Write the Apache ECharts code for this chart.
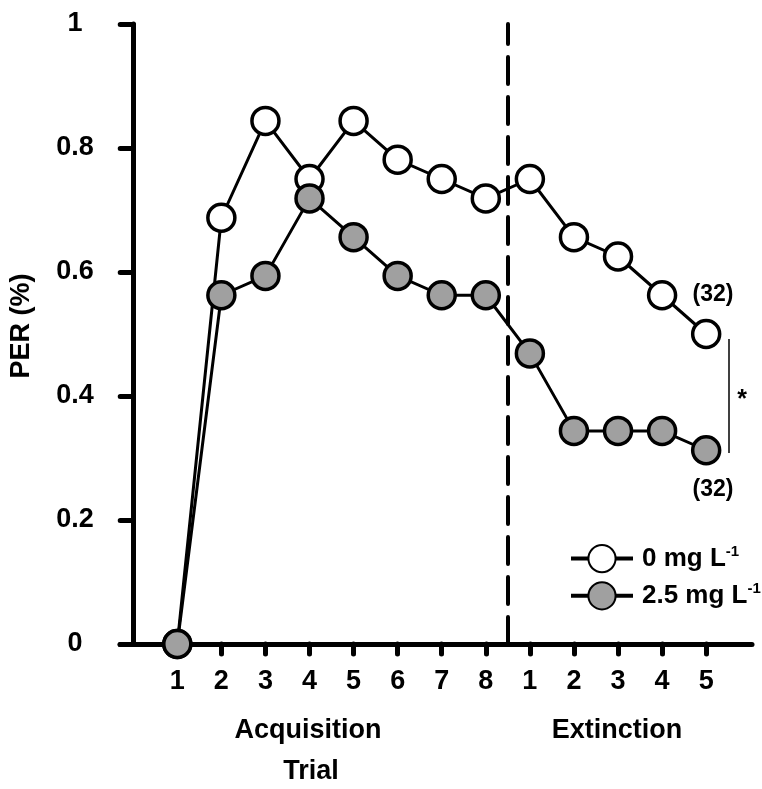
<!DOCTYPE html>
<html>
<head>
    <meta charset="utf-8">
    <script src="https://cdn.jsdelivr.net/npm/echarts@6/dist/echarts.min.js"></script>
    <style>
        html, body { margin: 0; padding: 0; background: #fff; }
    </style>
</head>
<body>
<div id="main" style="width: 762px;height: 789px;"></div>
<script type="text/javascript">
    // trial positions and their labels (acquisition 1-8, extinction 1-5)
    var trialPos = [1, 2, 3, 4, 5, 6, 7, 8, 9, 10, 11, 12, 13];
    var trialLabels = ['1', '2', '3', '4', '5', '6', '7', '8', '1', '2', '3', '4', '5'];
    var yTicks = [0, 0.2, 0.4, 0.6, 0.8, 1];

    // PER proportions
    var per0 = [0, 0.6875, 0.84375, 0.75, 0.84375, 0.78125, 0.75, 0.71875, 0.75, 0.65625, 0.625, 0.5625, 0.5];
    var per25 = [0, 0.5625, 0.59375, 0.71875, 0.65625, 0.59375, 0.5625, 0.5625, 0.46875, 0.34375, 0.34375, 0.34375, 0.3125];

    var seriesNames = ['0 mg L-1', '2.5 mg L-1'];
    var phaseSplit = 8.5;

    var font = '"Liberation Sans", Arial, sans-serif';
    var fs = 27;

    function pairs(vals) {
        var out = [];
        for (var i = 0; i < vals.length; i++) {
            out.push([trialPos[i], vals[i]]);
        }
        return out;
    }

    var myChart = echarts.init(document.getElementById('main'));

    var option = {
        animation: false,
        backgroundColor: '#fff',
        grid: { left: 115, right: 10, top: 24, bottom: 145 },
        legend: {
            orient: 'vertical',
            left: 564,
            top: 539,
            itemWidth: 62,
            itemHeight: 34,
            itemGap: 8,
            data: seriesNames,
            lineStyle: { width: 4 },
            formatter: function (name) {
                return '{a|' + name.replace('-1', '') + '}{s|-1}';
            },
            textStyle: {
                rich: {
                    a: { fontFamily: font, fontWeight: 'bold', fontSize: 26, color: '#000', padding: [0, 0, 0, 4] },
                    s: { fontFamily: font, fontWeight: 'bold', fontSize: 15, color: '#000', verticalAlign: 'top', padding: [0, 0, 14, 0] }
                }
            }
        },
        xAxis: {
            type: 'value',
            min: -0.3,
            max: 14.04,
            splitLine: { show: false },
            axisLine: { lineStyle: { color: '#000', width: 5, cap: 'round' } },
            axisTick: {
                customValues: trialPos,
                length: 10,
                lineStyle: { color: '#000', width: 5, cap: 'round' }
            },
            axisLabel: {
                customValues: trialPos,
                margin: 24,
                color: '#000',
                fontFamily: font,
                fontWeight: 'bold',
                fontSize: fs,
                formatter: function (v) { return trialLabels[Math.round(v) - 1]; }
            }
        },
        yAxis: {
            type: 'value',
            min: 0,
            max: 1,
            interval: 0.2,
            name: 'PER (%)',
            nameLocation: 'middle',
            nameGap: 85,
            nameTextStyle: { color: '#000', fontFamily: font, fontWeight: 'bold', fontSize: fs, padding: [0, 0, 0, 16] },
            splitLine: { show: false },
            axisLine: { onZero: true, lineStyle: { color: '#000', width: 5, cap: 'round' } },
            axisTick: { length: 13, lineStyle: { color: '#000', width: 5, cap: 'round' } },
            axisLabel: {
                margin: 45,
                align: 'center',
                color: '#000',
                fontFamily: font,
                fontWeight: 'bold',
                fontSize: fs,
                formatter: function (v) { return String(Math.round(v * 10) / 10); }
            }
        },
        series: [{
            name: seriesNames[0],
            type: 'line',
            data: pairs(per0),
            symbol: 'circle',
            symbolSize: 27,
            z: 2,
            lineStyle: { color: '#000', width: 3 },
            itemStyle: { color: '#fff', borderColor: '#000', borderWidth: 3.5 },
            markLine: {
                silent: true,
                symbol: 'none',
                label: { show: false },
                lineStyle: { color: '#000', width: 4, type: [27, 13], cap: 'round' },
                data: [{ xAxis: phaseSplit }]
            }
        }, {
            name: seriesNames[1],
            type: 'line',
            data: pairs(per25),
            symbol: 'circle',
            symbolSize: 27,
            z: 3,
            lineStyle: { color: '#000', width: 3 },
            itemStyle: { color: '#a0a0a0', borderColor: '#000', borderWidth: 3.5 }
        }],
        graphic: [
            { type: 'text', x: 308, y: 731, style: { text: 'Acquisition', font: 'bold ' + fs + 'px ' + font, fill: '#000', align: 'center', verticalAlign: 'middle' } },
            { type: 'text', x: 617, y: 731, style: { text: 'Extinction', font: 'bold ' + fs + 'px ' + font, fill: '#000', align: 'center', verticalAlign: 'middle' } },
            { type: 'text', x: 311, y: 772, style: { text: 'Trial', font: 'bold ' + fs + 'px ' + font, fill: '#000', align: 'center', verticalAlign: 'middle' } },
            { type: 'text', x: 713, y: 295, style: { text: '(32)', font: 'bold 23px ' + font, fill: '#000', align: 'center', verticalAlign: 'middle' } },
            { type: 'text', x: 713, y: 490, style: { text: '(32)', font: 'bold 23px ' + font, fill: '#000', align: 'center', verticalAlign: 'middle' } },
            { type: 'line', shape: { x1: 729, y1: 339, x2: 729, y2: 453 }, style: { stroke: '#000', lineWidth: 1.5 } },
            { type: 'text', x: 742, y: 400, style: { text: '*', font: 'bold 25px ' + font, fill: '#000', align: 'center', verticalAlign: 'middle' } }
        ]
    };

    myChart.setOption(option);
</script>
</body>
</html>
